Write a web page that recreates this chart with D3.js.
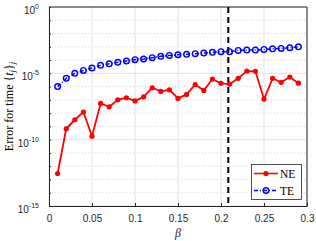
<!doctype html>
<html>
<head>
<script src="https://d3js.org/d3.v7.min.js"></script>
<style>
body { margin: 0; background: #fff; }
text { font-family: "Liberation Sans", Arial, sans-serif; }
</style>
</head>
<body>
<svg width="316" height="241"></svg>
<script>
// beta values
var beta = [0.01,0.02,0.03,0.04,0.05,0.06,0.07,0.08,0.09,0.10,
            0.11,0.12,0.13,0.14,0.15,0.16,0.17,0.18,0.19,0.20,
            0.21,0.22,0.23,0.24,0.25,0.26,0.27,0.28,0.29];
// log10 of the errors
var neLog = [-12.55,-9.18,-8.5,-7.92,-9.74,-7.27,-7.52,-7.0,-6.84,-7.08,
             -6.77,-6.09,-6.36,-6.24,-6.89,-6.59,-5.84,-6.29,-5.43,-5.75,
             -5.81,-5.38,-4.83,-4.85,-6.94,-5.38,-5.68,-5.28,-5.74];
var teLog = [-6.0,-5.38,-5.0,-4.78,-4.6,-4.4,-4.28,-4.17,-4.07,-3.97,
             -3.92,-3.82,-3.72,-3.65,-3.6,-3.57,-3.52,-3.47,-3.42,-3.37,
             -3.37,-3.27,-3.25,-3.25,-3.2,-3.15,-3.12,-3.07,-3.0];
var xTicks = [0, 0.05, 0.1, 0.15, 0.2, 0.25, 0.3];
var yTicks = [0, -5, -10, -15];   // exponents
var vLine = 0.2085;

var ne = beta.map((b, i) => ({x: b, y: Math.pow(10, neLog[i])}));
var te = beta.map((b, i) => ({x: b, y: Math.pow(10, teLog[i])}));

var svg = d3.select("svg");
var pl = 49, pr = 307, pt = 7, pb = 206;

var x = d3.scaleLinear().domain([0, 0.3]).range([pl, pr]);
var y = d3.scaleLog().domain([1e-15, 1]).range([pb, pt]);

// grid
var decades = d3.range(-15, 1);
svg.append("g").selectAll("line").data(decades).enter().append("line")
   .attr("x1", pl).attr("x2", pr)
   .attr("y1", d => y(Math.pow(10, d))).attr("y2", d => y(Math.pow(10, d)))
   .attr("stroke", d => d % 5 === 0 ? "#e3e3e3" : "#d6d6d6")
   .attr("stroke-dasharray", d => d % 5 === 0 ? null : "1,2")
   .attr("stroke-width", 1);
svg.append("g").selectAll("line").data(xTicks).enter().append("line")
   .attr("x1", d => x(d)).attr("x2", d => x(d))
   .attr("y1", pt).attr("y2", pb)
   .attr("stroke", "#e3e3e3");

// axes
var ax = svg.append("g").attr("transform", "translate(0," + pb + ")")
   .call(d3.axisBottom(x).tickValues(xTicks).tickSizeInner(-3).tickSizeOuter(0)
         .tickPadding(9).tickFormat(d => String(+d.toFixed(2))));
ax.select(".domain").attr("stroke", "#262626");
ax.selectAll(".tick line").attr("stroke", "#262626");
ax.selectAll("text").attr("fill", "#262626").style("font-size", "10px")
  .style("font-family", "Liberation Sans, Arial, sans-serif");

var ay = svg.append("g").attr("transform", "translate(" + pl + ",0)")
   .call(d3.axisLeft(y).tickValues(decades.map(d => Math.pow(10, d)))
         .tickSizeInner(-2).tickSizeOuter(0).tickFormat(""));
ay.select(".domain").attr("stroke", "#262626");
ay.selectAll(".tick line").attr("stroke", "#262626");

// y tick labels with superscript
var yl = svg.append("g").selectAll("text").data(yTicks).enter().append("text")
   .attr("x", 39).attr("y", d => y(Math.pow(10, d)) + 7)
   .attr("text-anchor", "end").attr("fill", "#262626").style("font-size", "10px");
yl.append("tspan").text("10");
yl.append("tspan").attr("dy", -5).style("font-size", "7px").text(d => d);

// box top/right
svg.append("line").attr("x1", pl).attr("x2", pr).attr("y1", pt).attr("y2", pt)
   .attr("stroke", "#262626");
svg.append("line").attr("x1", pr).attr("x2", pr).attr("y1", pt).attr("y2", pb)
   .attr("stroke", "#262626");

// vertical dashed line
svg.append("line").attr("x1", x(vLine)).attr("x2", x(vLine))
   .attr("y1", pt).attr("y2", pb)
   .attr("stroke", "#000").attr("stroke-width", 2).attr("stroke-dasharray", "6,4");

var line = d3.line().x(d => x(d.x)).y(d => y(d.y));

// TE
svg.append("path").datum(te).attr("d", line).attr("fill", "none")
   .attr("stroke", "#0000ff").attr("stroke-width", 1.5).attr("stroke-dasharray", "4,2,1,2");
svg.append("g").selectAll("circle").data(te).enter().append("circle")
   .attr("cx", d => x(d.x)).attr("cy", d => y(d.y)).attr("r", 2.8)
   .attr("fill", "none").attr("stroke", "#0000ff").attr("stroke-width", 1.4);

// NE
svg.append("path").datum(ne).attr("d", line).attr("fill", "none")
   .attr("stroke", "#ff0000").attr("stroke-width", 1.8);
svg.append("g").selectAll("circle").data(ne).enter().append("circle")
   .attr("cx", d => x(d.x)).attr("cy", d => y(d.y)).attr("r", 2.6)
   .attr("fill", "#ff0000");

// labels
svg.append("text")
   .attr("transform", "translate(13," + ((pt + pb) / 2) + ")rotate(-90)")
   .attr("text-anchor", "middle")
   .style("font-family", "Liberation Serif, Times New Roman, serif")
   .style("font-size", "12px").attr("fill", "#000")
   .html('Error for time {<tspan font-style="italic">t</tspan><tspan dy="2" font-size="8.5px" font-style="italic">j</tspan><tspan dy="-2">}</tspan><tspan dy="2" font-size="8.5px" font-style="italic">j</tspan>');

svg.append("text").attr("x", (pl + pr) / 2).attr("y", 237)
   .attr("text-anchor", "middle")
   .style("font-family", "Liberation Serif, Times New Roman, serif")
   .style("font-size", "12px").style("font-style", "italic").attr("fill", "#262626")
   .text("\u03b2");

// legend
var lg = svg.append("g");
lg.append("rect").attr("x", 251.5).attr("y", 164.5).attr("width", 50).attr("height", 35)
  .attr("fill", "#fff").attr("stroke", "#262626").attr("stroke-width", 0.8);
var items = [
  {name: "NE", color: "#ff0000", dash: null, fill: "#ff0000", yy: 173.5},
  {name: "TE", color: "#0000ff", dash: "4,2,1,2", fill: "none", yy: 190.5}
];
items.forEach(function (it) {
  lg.append("line").attr("x1", 254).attr("x2", 278).attr("y1", it.yy).attr("y2", it.yy)
    .attr("stroke", it.color).attr("stroke-width", 1.5).attr("stroke-dasharray", it.dash);
  lg.append("circle").attr("cx", 266).attr("cy", it.yy).attr("r", it.fill === "none" ? 2.8 : 2.6)
    .attr("fill", it.fill).attr("stroke", it.fill === "none" ? it.color : null)
    .attr("stroke-width", 1.4);
  lg.append("text").attr("x", 280).attr("y", it.yy + 4)
    .style("font-family", "Liberation Serif, Times New Roman, serif")
    .style("font-size", "11.5px").attr("fill", "#000").text(it.name);
});
</script>
</body>
</html>
